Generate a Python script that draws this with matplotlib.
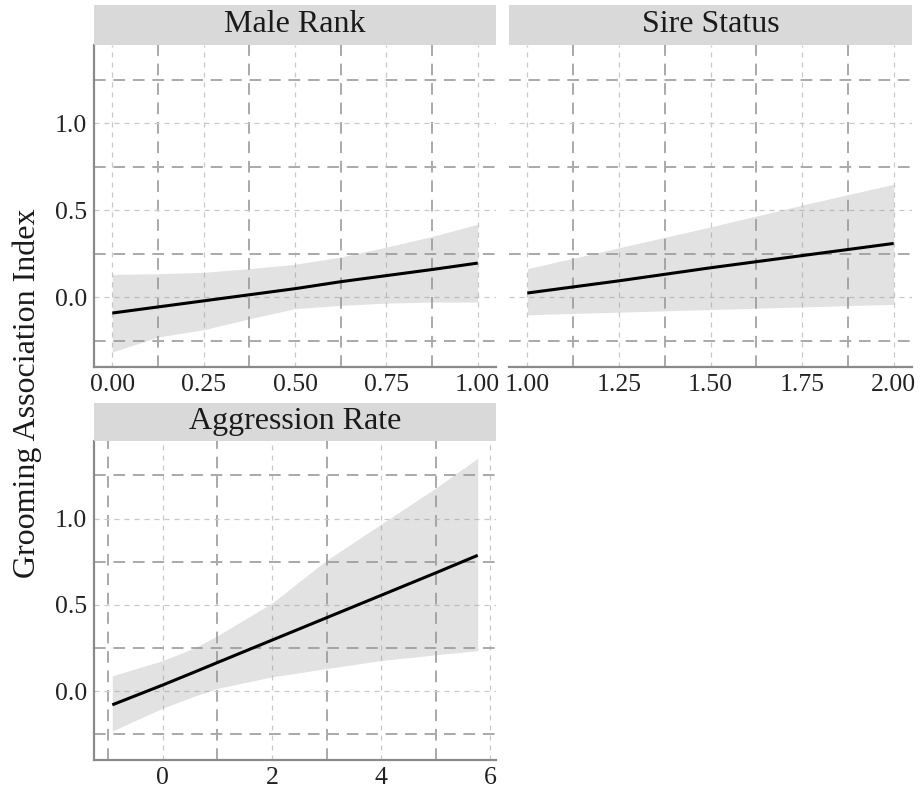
import matplotlib.pyplot as plt
import numpy as np

plt.rcParams['font.family'] = ['Liberation Serif', 'DejaVu Serif']

# predicted grooming association index with 95% band, one facet per predictor
rank_x = [0.0, 0.125, 0.25, 0.375, 0.5, 0.625, 0.75, 0.875, 1.0]
rank_fit = [-0.09, -0.055, -0.02, 0.015, 0.05, 0.09, 0.125, 0.16, 0.197]
rank_lo = [-0.314, -0.228, -0.186, -0.123, -0.065, -0.046, -0.033, -0.027, -0.027]
rank_hi = [0.132, 0.136, 0.144, 0.165, 0.19, 0.232, 0.289, 0.35, 0.42]

sire_x = [1.00, 1.25, 1.50, 1.75, 2.00]
sire_fit = [0.025, 0.095, 0.17, 0.24, 0.31]
sire_lo = [-0.10, -0.085, -0.07, -0.055, -0.04]
sire_hi = [0.165, 0.285, 0.405, 0.53, 0.65]

aggr_x = [-0.925, 0.0, 0.58, 1.0, 2.0, 3.0, 4.0, 5.0, 5.77]
aggr_fit = [-0.08, 0.035, 0.11, 0.165, 0.295, 0.425, 0.555, 0.685, 0.787]
aggr_lo = [-0.232, -0.099, -0.03, 0.015, 0.082, 0.13, 0.177, 0.21, 0.234]
aggr_hi = [0.088, 0.177, 0.25, 0.32, 0.51, 0.758, 0.968, 1.177, 1.35]

facets = [
    ('Male Rank', rank_x, rank_fit, rank_lo, rank_hi,
     [0.0, 0.25, 0.5, 0.75, 1.0], ['0.00', '0.25', '0.50', '0.75', '1.00'],
     [0.125, 0.375, 0.625, 0.875], (-0.05, 1.05)),
    ('Sire Status', sire_x, sire_fit, sire_lo, sire_hi,
     [1.0, 1.25, 1.5, 1.75, 2.0], ['1.00', '1.25', '1.50', '1.75', '2.00'],
     [1.125, 1.375, 1.625, 1.875], (0.95, 2.05)),
    ('Aggression Rate', aggr_x, aggr_fit, aggr_lo, aggr_hi,
     [0, 2, 4, 6], ['0', '2', '4', '6'],
     [-1, 1, 3, 5], (-1.26, 6.105)),
]

y_major = [0.0, 0.5, 1.0]
y_minor = [-0.25, 0.25, 0.75, 1.25]

W, H = 921, 793
fig = plt.figure(figsize=(W / 100, H / 100), dpi=100)

# panel boxes in pixels: left, top, right, bottom
boxes = [(94, 45, 496, 367), (509, 45, 912, 367), (94, 441, 496, 760)]
strip_h = [40, 40, 38]

for i, (title, x, fit, lo, hi, xt, xtl, xminor, xlim) in enumerate(facets):
    l, t, r, b = boxes[i]
    ax = fig.add_axes([l / W, 1 - b / H, (r - l) / W, (b - t) / H])
    ax.fill_between(x, lo, hi, color='#999999', alpha=0.28, lw=0, zorder=2)
    ax.plot(x, fit, color='black', lw=2.2, zorder=3, solid_capstyle='butt')

    for v in xt:
        ax.axvline(v, color='#c8c8c8', lw=0.9, ls=(0, (4, 4)), zorder=1)
    for v in xminor:
        ax.axvline(v, color='#a9a9a9', lw=1.4, ls=(0, (6, 4)), zorder=1)
    for v in y_major:
        ax.axhline(v, color='#c8c8c8', lw=0.9, ls=(0, (4, 4)), zorder=1)
    for v in y_minor:
        ax.axhline(v, color='#a9a9a9', lw=1.4, ls=(0, (6, 4)), zorder=1)

    ax.set_xlim(*xlim)
    ax.set_ylim(-0.40, 1.45)
    ax.set_xticks(xt)
    ax.set_xticklabels(xtl)
    ax.set_yticks(y_major)
    ax.set_yticklabels(['0.0', '0.5', '1.0'])
    ax.tick_params(length=0, labelsize=18.5, colors='#222222', pad=5)

    for s in ('top', 'right'):
        ax.spines[s].set_visible(False)
    ax.spines['bottom'].set_color('#8a8a8a')
    ax.spines['bottom'].set_linewidth(1.6)
    if i == 1:
        ax.spines['left'].set_visible(False)
        ax.set_yticklabels([])
    else:
        ax.spines['left'].set_color('#8a8a8a')
        ax.spines['left'].set_linewidth(1.6)

    # facet strip
    sh = strip_h[i]
    sax = fig.add_axes([l / W, 1 - t / H, (r - l) / W, sh / H])
    sax.set_facecolor('#d9d9d9')
    sax.set_xticks([])
    sax.set_yticks([])
    for s in sax.spines.values():
        s.set_visible(False)
    sax.text(0.5, 0.5, title, ha='center', va='center', fontsize=23,
             color='#1a1a1a', transform=sax.transAxes)

fig.text(27 / W, 1 - 393 / H, 'Grooming Association Index', rotation=90,
         ha='center', va='center', fontsize=23, color='#1a1a1a')

fig.savefig('out.png', dpi=100)
